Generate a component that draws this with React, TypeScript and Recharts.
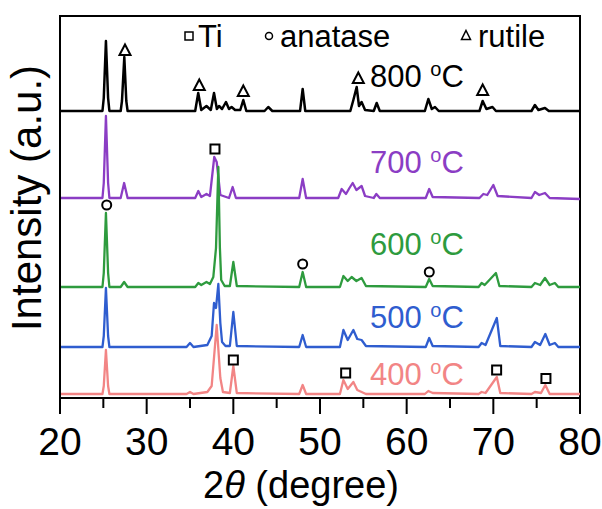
import React from "react";
import {
  LineChart,
  Line,
  XAxis,
  YAxis,
  ReferenceDot,
  ReferenceArea,
  Customized,
} from "recharts";

// 2theta (deg) / intensity (a.u., patterns already stacked)
const pattern800: [number, number][] = [
  [20, 287], [24.9, 287], [25.05, 300], [25.3, 357], [25.55, 300], [25.7, 287],
  [27.0, 287], [27.15, 297], [27.42, 341], [27.65, 297], [27.8, 287],
  [35.6, 287], [35.95, 305], [36.3, 288], [36.9, 292], [37.4, 288], [37.77, 305],
  [38.1, 289], [38.35, 292], [38.7, 289], [39.15, 296], [39.5, 289], [39.8, 291],
  [40.2, 288], [40.8, 288], [41.15, 298], [41.5, 287], [43.6, 287], [44.03, 291],
  [44.5, 287], [47.7, 287], [48.0, 309], [48.3, 287], [53.5, 287], [53.85, 298],
  [54.23, 311], [54.5, 292], [54.8, 296], [55.2, 288], [56.2, 287], [56.54, 295],
  [56.9, 287], [62.1, 287], [62.5, 299], [62.9, 289], [63.27, 291], [63.7, 287],
  [68.4, 287], [68.77, 297], [69.2, 289], [69.9, 291], [70.3, 287], [74.4, 287],
  [74.8, 293], [75.2, 288], [75.96, 290], [76.4, 287], [80, 287],
];

const pattern700: [number, number][] = [
  [20, 200], [24.9, 200], [25.05, 215], [25.3, 282], [25.55, 215], [25.7, 200],
  [27.0, 200], [27.4, 215], [27.8, 200], [35.6, 200], [35.96, 207], [36.3, 201],
  [36.9, 204], [37.3, 202], [37.8, 241], [38.08, 236], [38.5, 203], [39.5, 200],
  [39.92, 211], [40.3, 200], [47.6, 200], [48.0, 219], [48.4, 200], [52.1, 200],
  [52.5, 209], [53.0, 204], [53.4, 210], [53.77, 215], [54.2, 208], [54.8, 212],
  [55.2, 202], [56.2, 200], [56.5, 204], [56.9, 200], [62.2, 200], [62.6, 209],
  [63.0, 201], [68.4, 200], [68.85, 204], [69.3, 203], [70.0, 213], [70.5, 202],
  [74.4, 200], [74.8, 206], [75.3, 203], [75.96, 205], [76.5, 200], [80, 199],
];

const pattern600: [number, number][] = [
  [20, 111], [24.9, 111], [25.05, 125], [25.3, 185], [25.55, 125], [25.7, 111],
  [27.0, 111], [27.4, 116], [27.8, 111], [35.6, 111], [35.96, 115], [36.3, 113],
  [36.9, 116], [37.3, 114], [37.69, 121], [38.0, 150], [38.27, 231], [38.45, 150],
  [38.6, 118], [39.0, 112], [39.6, 112], [40.0, 136], [40.4, 112], [47.6, 111],
  [48.0, 126], [48.4, 111], [52.3, 111], [52.7, 122], [53.2, 117], [53.65, 121],
  [54.2, 117], [54.8, 120], [55.3, 112], [62.2, 111], [62.6, 119], [63.0, 112],
  [68.3, 111], [68.65, 115], [69.0, 113], [70.3, 125], [70.7, 112], [74.4, 111],
  [74.8, 115], [75.4, 113], [75.96, 120], [76.5, 113], [77.1, 115], [77.5, 111],
  [80, 111],
];

const pattern500: [number, number][] = [
  [20, 51], [24.9, 51], [25.05, 62], [25.3, 110], [25.55, 62], [25.7, 51],
  [34.6, 51], [35.0, 55], [35.4, 51], [37.0, 53], [37.5, 62], [37.77, 95],
  [38.0, 90], [38.27, 114], [38.5, 75], [38.7, 56], [39.1, 52], [39.6, 52],
  [40.0, 86], [40.4, 52], [47.6, 51], [48.0, 63], [48.4, 51], [52.3, 51],
  [52.7, 68], [53.2, 58], [53.85, 68], [54.3, 59], [54.8, 58], [55.3, 52],
  [62.2, 51], [62.6, 60], [63.0, 52], [68.3, 51], [68.65, 55], [69.1, 53],
  [70.4, 80], [70.8, 52], [74.4, 51], [74.8, 56], [75.4, 53], [76.0, 64],
  [76.5, 53], [77.1, 55], [77.5, 51], [80, 51],
];

const pattern400: [number, number][] = [
  [20, 4], [24.9, 4], [25.05, 12], [25.3, 48], [25.55, 12], [25.7, 4],
  [34.6, 4], [35.0, 6], [35.4, 4], [37.0, 6], [37.5, 12], [38.08, 73],
  [38.5, 20], [38.8, 6], [39.6, 5], [40.0, 32], [40.4, 5], [47.6, 4],
  [48.0, 13], [48.4, 4], [52.3, 4], [52.7, 18], [53.2, 9], [53.85, 16],
  [54.3, 8], [54.8, 6], [55.3, 4], [62.1, 4], [62.5, 7], [63.0, 5],
  [68.3, 4], [68.65, 6], [69.1, 5], [70.4, 21], [70.8, 5], [74.4, 4],
  [74.8, 6], [75.5, 5], [76.0, 13], [76.5, 4], [80, 4],
];

const seriesNames = ["800", "700", "600", "500", "400"];
const seriesColors = ["#000000", "#8B3DC4", "#2E9B3E", "#2F5DCF", "#F28585"];
const seriesData = [pattern800, pattern700, pattern600, pattern500, pattern400];

// phase markers: [2theta, intensity]
const rutileMarks: [number, number][] = [
  [27.5, 348], [36.07, 313], [41.15, 307], [54.42, 320], [68.77, 308],
];
const tiMarks: [number, number][] = [
  [37.88, 249], [40.0, 38], [52.96, 25], [70.38, 28], [76.07, 19.5],
];
const anataseMarks: [number, number][] = [
  [25.39, 193], [48.0, 134], [62.61, 126],
];

const xTicks = [20, 25, 30, 35, 40, 45, 50, 55, 60, 65, 70, 75, 80];

const FONT = "Arial, 'Liberation Sans', sans-serif";

const XTick = (props: any) => {
  const { x, y, payload } = props;
  const major = payload.value % 10 === 0;
  return (
    <g>
      <line x1={x} x2={x} y1={y} y2={y + (major ? 16 : 10)} stroke="#000" strokeWidth={2} />
      {major && (
        <text x={x} y={y + 57} textAnchor="middle" fontSize={39} fontFamily={FONT} fill="#000">
          {payload.value}
        </text>
      )}
    </g>
  );
};

const Square = (props: any) => (
  <rect x={props.cx - 4.5} y={props.cy - 4.5} width={9} height={9} fill="#fff" stroke="#000" strokeWidth={2} />
);
const Circle = (props: any) => (
  <circle cx={props.cx} cy={props.cy} r={4.5} fill="#fff" stroke="#000" strokeWidth={2} />
);
const Triangle = (props: any) => (
  <path
    d={`M${props.cx},${props.cy - 5.5} L${props.cx + 5.5},${props.cy + 5} L${props.cx - 5.5},${props.cy + 5} Z`}
    fill="#fff"
    stroke="#000"
    strokeWidth={2}
    strokeLinejoin="miter"
  />
);

const labelBaselines = [87, 173, 255, 328, 385];

const Overlay = () => (
  <g fontFamily={FONT}>
    {/* legend */}
    <rect x={185} y={32} width={8} height={8} fill="none" stroke="#000" strokeWidth={1.5} />
    <text x={198} y={47} fontSize={31} fill="#000">Ti</text>
    <circle cx={269} cy={36} r={3.5} fill="none" stroke="#000" strokeWidth={1.5} />
    <text x={280} y={47} fontSize={31} fill="#000">anatase</text>
    <path d="M466,30.5 L470.5,39.5 L461.5,39.5 Z" fill="none" stroke="#000" strokeWidth={1.5} />
    <text x={478} y={47} fontSize={31} fill="#000">rutile</text>
    {seriesNames.map((n, i) => (
      <text key={n} x={370} y={labelBaselines[i]} fontSize={31} fill={seriesColors[i]}>
        {n + " "}
        <tspan fontSize={20} dy={-11}>o</tspan>
        <tspan dy={11}>C</tspan>
      </text>
    ))}
    {/* axis titles */}
    <text x={301} y={498} textAnchor="middle" fontSize={38} fill="#000">
      2<tspan fontStyle="italic">θ</tspan> (degree)
    </text>
    <text
      x={41}
      y={198}
      transform="rotate(-90 41 198)"
      textAnchor="middle"
      fontSize={42}
      fill="#000"
    >
      Intensity (a.u.)
    </text>
  </g>
);

export default function App() {
  return (
    <div style={{ position: "absolute", left: 0, top: 0 }}>
      <LineChart width={602} height={509} margin={{ top: 16, right: 22, bottom: 0, left: 0 }}>
        <XAxis
          dataKey="t"
          type="number"
          domain={[20, 80]}
          ticks={xTicks}
          interval={0}
          height={111}
          tickSize={0}
          tickMargin={0}
          tickLine={false}
          axisLine={{ stroke: "#000", strokeWidth: 2 }}
          tick={<XTick />}
          allowDataOverflow
        />
        <YAxis
          type="number"
          domain={[0, 382]}
          width={60}
          tick={false}
          tickLine={false}
          axisLine={{ stroke: "#000", strokeWidth: 2 }}
          allowDataOverflow
        />
        <ReferenceArea x1={20} x2={80} y1={0} y2={382} fill="none" stroke="#000" strokeWidth={2} ifOverflow="visible" />
        {seriesData.map((d, i) => (
          <Line
            key={seriesNames[i]}
            data={d.map(([t, v]) => ({ t, v }))}
            dataKey="v"
            type="linear"
            stroke={seriesColors[i]}
            strokeWidth={i === 0 ? 2.5 : 2.3}
            strokeLinejoin="round"
            dot={false}
            isAnimationActive={false}
          />
        ))}
        {rutileMarks.map(([t, v], i) => (
          <ReferenceDot key={"r" + i} x={t} y={v} r={5} ifOverflow="visible" shape={Triangle} />
        ))}
        {tiMarks.map(([t, v], i) => (
          <ReferenceDot key={"t" + i} x={t} y={v} r={5} ifOverflow="visible" shape={Square} />
        ))}
        {anataseMarks.map(([t, v], i) => (
          <ReferenceDot key={"a" + i} x={t} y={v} r={5} ifOverflow="visible" shape={Circle} />
        ))}
        <Customized component={Overlay} />
      </LineChart>
    </div>
  );
}
